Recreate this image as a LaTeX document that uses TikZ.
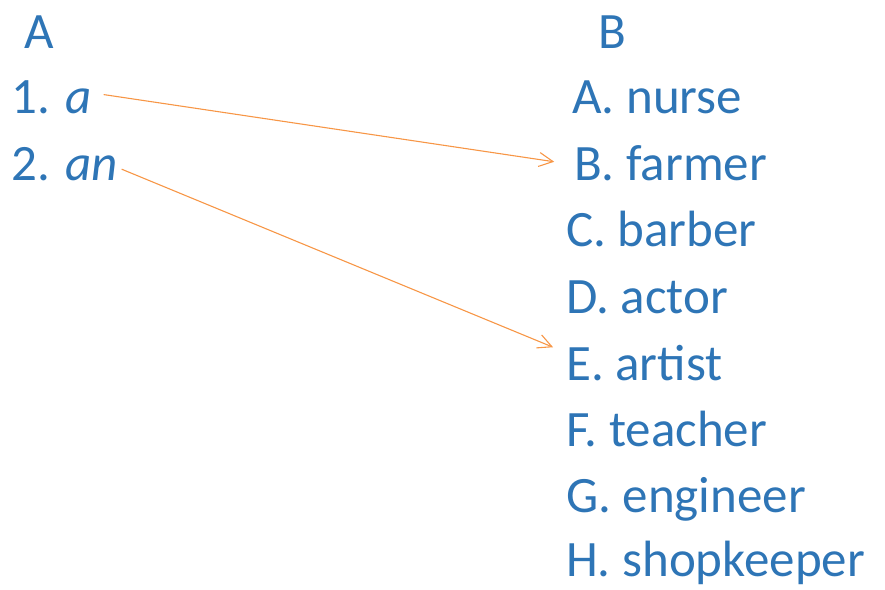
\documentclass[tikz,border=0pt]{standalone}
\usepackage{fontspec}
\setmainfont{Carlito}
\usetikzlibrary{arrows.meta, positioning}
\definecolor{itemblue}{HTML}{2E75B6}
\definecolor{linkorange}{HTML}{F79646}

\begin{document}
\begin{tikzpicture}[x=1pt, y=-1pt, font=\fontsize{51}{60}\selectfont,
            t/.style={text=itemblue, inner sep=0pt, anchor=base west},
            link/.style={draw=linkorange, line width=1.1pt, -{Straight Barb[length=14pt, width=14pt, line width=1.1pt]}}]
            \useasboundingbox (0,0) rectangle (885,589);
            % column heads
            \node[t] (hA) at (24,48) {A};
            \node[t] (hB) at (598,48) {B};
            % left column
            \node[t] (l1) at (11,113) {1. \textit{a}};
            \node[t] (l2) at (11,180) {2. \textit{an}};
            % right column
            \node[t] (rA) at (572,113) {A. nurse};
            \node[t] (rB) at (574,180) {B. farmer};
            \node[t] (rC) at (566,246) {C. barber};
            \node[t] (rD) at (566,313) {D. actor};
            \node[t] (rE) at (566,380) {E. artist};
            \node[t] (rF) at (566,446) {F. teacher};
            \node[t] (rG) at (566,512) {G. engineer};
            \node[t] (rH) at (566,576) {H. shopkeeper};
            % answers
            \draw[link, shorten <=12pt, shorten >=20pt] ([yshift=4pt]l1.east) -- ([yshift=-2pt]rB.west);
            \draw[link, shorten <=4pt, shorten >=14pt] ([yshift=-4pt]l2.east) -- ([yshift=10pt]rE.west);
        \end{tikzpicture}
\end{document}
